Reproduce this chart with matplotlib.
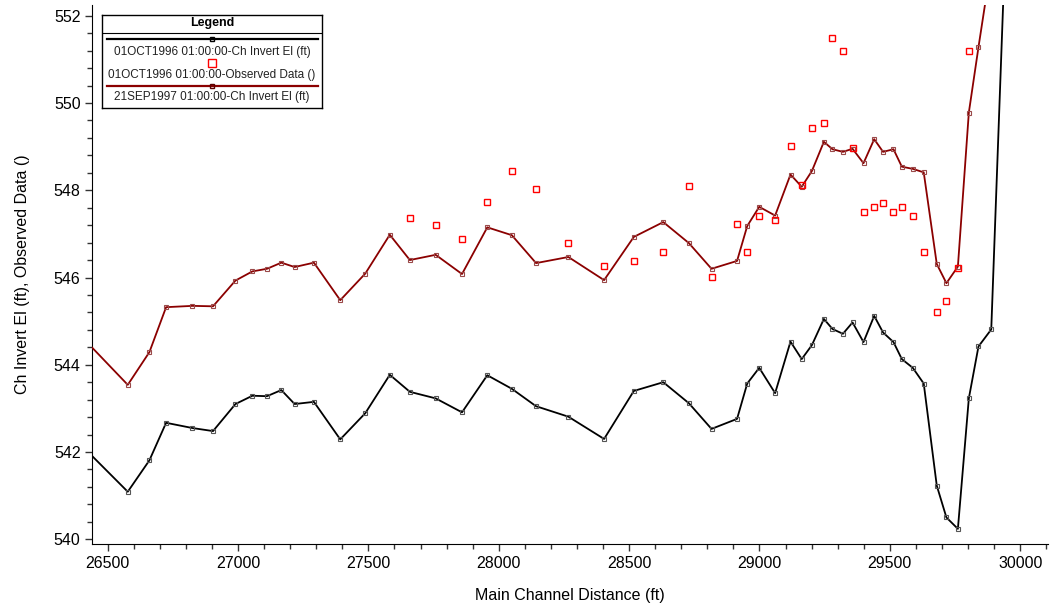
import numpy as np
import matplotlib
matplotlib.use('Agg')
import matplotlib.pyplot as plt
from matplotlib.ticker import MultipleLocator

plt.rcParams['font.family'] = ['Liberation Sans', 'DejaVu Sans']

# channel stations (ft)
station = [26420, 26577, 26660, 26724, 26825, 26904, 26990, 27055, 27111, 27166,
           27217, 27291, 27392, 27488, 27582, 27659, 27758, 27859, 27956, 28050,
           28143, 28267, 28404, 28518, 28631, 28729, 28816, 28914, 28953, 28999,
           29060, 29119, 29162, 29201, 29247, 29280, 29320, 29357, 29399, 29440,
           29474, 29514, 29546, 29588, 29630, 29680, 29717, 29761, 29803, 29840,
           29889, 29942]

invert_1996 = [542.03, 541.09, 541.81, 542.67, 542.55, 542.48, 543.10, 543.29, 543.28, 543.42,
               543.10, 543.15, 542.29, 542.89, 543.77, 543.38, 543.23, 542.91, 543.76, 543.45,
               543.05, 542.81, 542.30, 543.40, 543.60, 543.12, 542.53, 542.76, 543.57, 543.93,
               543.35, 544.53, 544.13, 544.45, 545.05, 544.82, 544.71, 544.97, 544.52, 545.12,
               544.74, 544.52, 544.13, 543.93, 543.57, 541.23, 540.50, 540.24, 543.23, 544.42,
               544.81, 553.48]

invert_1997 = [544.52, 543.54, 544.29, 545.32, 545.35, 545.34, 545.93, 546.14, 546.20, 546.34,
               546.24, 546.34, 545.48, 546.09, 546.98, 546.40, 546.52, 546.08, 547.15, 546.97,
               546.33, 546.47, 545.94, 546.93, 547.27, 546.79, 546.20, 546.38, 547.18, 547.62,
               547.42, 548.36, 548.08, 548.44, 549.11, 548.94, 548.88, 548.95, 548.62, 549.17,
               548.88, 548.94, 548.54, 548.49, 548.41, 546.31, 545.87, 546.25, 549.78, 551.28,
               553.19]

obs_station = [27659, 27758, 27859, 27956, 28050, 28143, 28267, 28404, 28518, 28631,
               28729, 28816, 28914, 28953, 28999, 29060, 29119, 29162, 29201, 29247,
               29280, 29320, 29357, 29399, 29440, 29474, 29514, 29546, 29588, 29630,
               29680, 29717, 29761, 29803]
obs_elev = [547.36, 547.21, 546.89, 547.73, 548.43, 548.03, 546.79, 546.27, 546.37, 546.59,
            548.10, 546.01, 547.23, 546.58, 547.42, 547.32, 549.01, 548.12, 549.43, 549.53,
            551.48, 551.18, 548.96, 547.49, 547.62, 547.71, 547.49, 547.62, 547.42, 546.58,
            545.21, 545.47, 546.22, 551.20]

legend_labels = ['01OCT1996 01:00:00-Ch Invert El (ft)',
                 '01OCT1996 01:00:00-Observed Data ()',
                 '21SEP1997 01:00:00-Ch Invert El (ft)']

black = '#000000'
darkred = '#8b0000'
obs_red = '#ff0000'

fig = plt.figure(figsize=(10.55, 6.06), dpi=100)
ax = fig.add_axes([0.0875, 0.1018, 0.9062, 0.8899])

ax.plot(station, invert_1996, color=black, lw=1.3, marker='s', ms=3.2,
        mfc='none', mec='#555555', mew=0.8, zorder=3)
ax.plot(station[:len(invert_1997)], invert_1997, color=darkred, lw=1.3, marker='s', ms=3.2,
        mfc='none', mec='#9a4a4a', mew=0.8, zorder=3)
ax.plot(obs_station, obs_elev, ls='none', marker='s', ms=4.8, mfc='none',
        mec=obs_red, mew=1.0, zorder=4)

ax.set_xlim(26441, 30108)
ax.set_ylim(539.885, 552.245)
ax.xaxis.set_major_locator(MultipleLocator(500))
ax.xaxis.set_minor_locator(MultipleLocator(100))
ax.yaxis.set_major_locator(MultipleLocator(2))
ax.yaxis.set_minor_locator(MultipleLocator(0.4))
ax.tick_params(which='major', length=5, width=1, labelsize=11.5, color='#333333')
ax.tick_params(which='minor', length=3.5, width=1, color='#333333')
ax.spines['top'].set_visible(False)
ax.spines['right'].set_visible(False)
ax.set_xlabel('Main Channel Distance (ft)', fontsize=11.5, labelpad=12)
ax.set_ylabel('Ch Invert El (ft), Observed Data ()', fontsize=11.5, labelpad=17)

# legend box drawn by hand (sample lines sit above each label)
lg = fig.add_axes([0.0964, 0.8213, 0.2088, 0.154])
lg.set_xlim(0, 220.3)
lg.set_ylim(93.3, 0)
lg.set_xticks([])
lg.set_yticks([])
for s in lg.spines.values():
    s.set_linewidth(1.0)
lg.text(110.2, 8.3, 'Legend', ha='center', va='center', fontsize=9, fontweight='bold')
lg.plot([0, 220.3], [17.7, 17.7], color=black, lw=0.8)
lg.plot([5, 216], [24.3, 24.3], color=black, lw=1.6)
lg.plot([110.2], [24.3], marker='s', ms=3.5, mfc='none', mec=black, mew=1)
lg.text(110.2, 36.7, legend_labels[0], ha='center', va='center', fontsize=8.5, color='#222222')
lg.plot([110.2], [48.3], marker='s', ms=5.5, mfc='none', mec=obs_red, mew=1)
lg.text(110.2, 60, legend_labels[1], ha='center', va='center', fontsize=8.5, color='#222222')
lg.plot([5, 216], [71, 71], color=darkred, lw=1.6)
lg.plot([110.2], [71], marker='s', ms=3.5, mfc='none', mec='#5a0000', mew=1)
lg.text(110.2, 82.3, legend_labels[2], ha='center', va='center', fontsize=8.5, color='#222222')

fig.savefig('out.png', dpi=100)
